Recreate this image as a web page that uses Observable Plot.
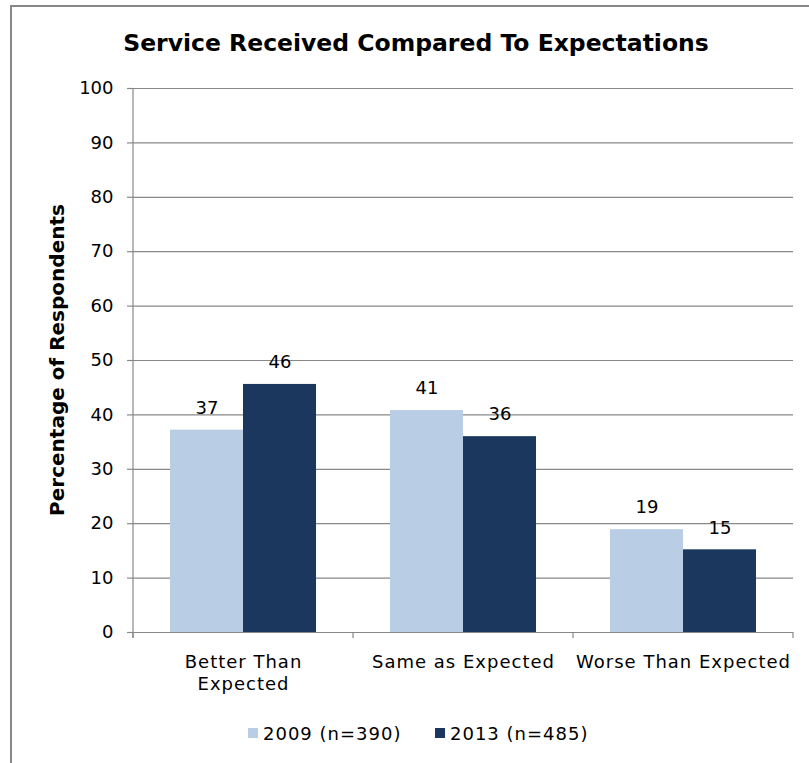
<!DOCTYPE html>
<html><head><meta charset="utf-8">
<script src="https://cdn.jsdelivr.net/npm/d3@7"></script>
<script src="https://cdn.jsdelivr.net/npm/@observablehq/plot@0.6"></script>
<style>
body{margin:0;background:#fff;}
#wrap{position:relative;width:809px;height:763px;overflow:hidden;background:#fff;font-family:"DejaVu Sans",Verdana,sans-serif;}
#frame{position:absolute;left:10px;top:5px;width:900px;height:900px;border-left:2px solid #888;border-top:2px solid #888;}
#chart{position:absolute;left:0;top:0;}
#overlay{position:absolute;left:0;top:0;}
#chart g[aria-label="fx-axis tick label"] text{letter-spacing:1px;}
</style></head>
<body><div id="wrap"><div id="frame"></div><div id="chart"></div><svg id="overlay" width="809" height="763"></svg></div>
<script>
const titleText = "Service Received Compared To Expectations";
const yLabel = "Percentage of Respondents";
const categories = ["Better Than Expected", "Same as Expected", "Worse Than Expected"];
const categoryLabels = ["Better Than\nExpected", "Same as Expected", "Worse Than Expected"];
const series = ["2009 (n=390)", "2013 (n=485)"];
const values2009 = [37.2, 40.8, 18.9];
const values2013 = [45.6, 36.0, 15.2];
const yTicks = [0, 10, 20, 30, 40, 50, 60, 70, 80, 90, 100];
const seriesColors = ["#B9CDE5", "#1B375E"];
const gridColor = "#888888";

const data = categories.flatMap((c, i) => [
  {category: c, series: series[0], value: values2009[i]},
  {category: c, series: series[1], value: values2013[i]}
]);

const plot = Plot.plot({
  width: 809,
  height: 700,
  marginLeft: 133,
  marginRight: 16,
  marginTop: 88,
  marginBottom: 68,
  style: {fontFamily: "'DejaVu Sans', Verdana, sans-serif", fontSize: "18px", color: "#000", background: "transparent"},
  fx: {domain: categories, padding: 0, label: null},
  x: {domain: series, paddingInner: 0, paddingOuter: 0.5, axis: null},
  y: {domain: [0, 100], axis: null},
  color: {domain: series, range: seriesColors},
  marks: [
    Plot.gridY(yTicks, {stroke: gridColor, strokeOpacity: 1, strokeWidth: 1.2}),
    Plot.barY(data, {fx: "category", x: "series", y: "value", fill: "series"}),
    Plot.ruleY([0], {stroke: gridColor, strokeWidth: 1.2}),
    Plot.text(data, {fx: "category", x: "series", y: "value", text: d => d3.format("d")(Math.round(d.value)), dy: -22, fontSize: 18, fill: "#000"}),
    Plot.axisY(yTicks, {tickSize: 6, tickPadding: 14, label: null, stroke: gridColor, strokeWidth: 1.2, fill: "#000", fontSize: 18}),
    Plot.axisFx({anchor: "bottom", tickSize: 0, tickPadding: 20, label: null, lineHeight: 1.22, fill: "#000", fontSize: 18,
      tickFormat: d => categoryLabels[categories.indexOf(d)]})
  ]
});

document.getElementById("chart").appendChild(plot);

// axis line and category boundary ticks, positioned through the plot's scales
const fxS = plot.scale("fx"), yS = plot.scale("y");
const yBase = yS.apply(0), yTop = yS.apply(100);
const edges = categories.map(c => fxS.apply(c));
edges.push(fxS.apply(categories[categories.length - 1]) + fxS.bandwidth);
const ag = d3.select(plot).append("g").attr("stroke", gridColor).attr("stroke-width", 1.2);
ag.append("line").attr("x1", edges[0]).attr("x2", edges[0]).attr("y1", yTop).attr("y2", yBase + 6);
ag.selectAll(null).data(edges).join("line")
  .attr("x1", d => d).attr("x2", d => d).attr("y1", yBase).attr("y2", yBase + 6);

// title, y label, legend
const ov = d3.select("#overlay").style("font-family", "'DejaVu Sans', Verdana, sans-serif");
ov.append("text").attr("x", 416).attr("y", 51).attr("text-anchor", "middle")
  .style("font-weight", "bold").style("font-size", "23.5px").attr("fill", "#000").text(titleText);
ov.append("text").attr("transform", `translate(63.5,${(yTop + yBase) / 2}) rotate(-90)`).attr("text-anchor", "middle")
  .style("font-weight", "bold").style("font-size", "20px").attr("fill", "#000").text(yLabel);

const legendX = [248, 435];
const lg = ov.append("g");
series.forEach((s, i) => {
  lg.append("rect").attr("x", legendX[i]).attr("y", 728).attr("width", 10).attr("height", 10).attr("fill", seriesColors[i]);
  lg.append("text").attr("x", legendX[i] + 15).attr("y", 740).style("font-size", "18px").style("letter-spacing", "1px")
    .attr("fill", "#000").text(s);
});
</script>
</body></html>
